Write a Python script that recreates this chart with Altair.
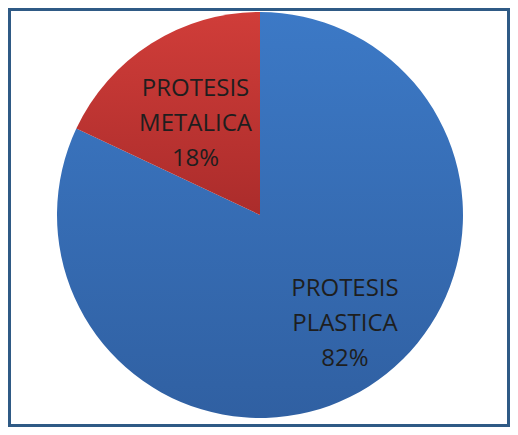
import altair as alt
import pandas as pd
import math

categories = ["PROTESIS\nPLASTICA", "PROTESIS\nMETALICA"]
values = [82, 18]
order = [1, 2]
labels = ["PROTESIS\nPLASTICA\n82%", "PROTESIS\nMETALICA\n18%"]

df = pd.DataFrame({"cat": categories, "value": values, "ord": order, "label": labels})

base = alt.Chart(df).transform_window(
    cum="sum(value)", sort=[alt.SortField("ord")]
).transform_calculate(
    start="datum.cum - datum.value", mid="datum.cum - datum.value / 2"
)

theta_scale = alt.Scale(domain=[0, 100], range=[0, 2 * math.pi])

blue = alt.Gradient(
    gradient="linear",
    stops=[alt.GradientStop(color="#3c79c6", offset=0), alt.GradientStop(color="#3060a2", offset=1)],
    x1=0, x2=0, y1=0, y2=1,
)
red = alt.Gradient(
    gradient="linear",
    stops=[alt.GradientStop(color="#d03d39", offset=0), alt.GradientStop(color="#ab2c2b", offset=1)],
    x1=0, x2=0, y1=0, y2=1,
)

W, H = 496, 414

def arc(idx, fill):
    return base.transform_filter(alt.datum.ord == order[idx]).mark_arc(
        color=fill, stroke=None
    ).encode(
        theta=alt.Theta("start:Q", scale=theta_scale),
        theta2="cum:Q",
        radius=alt.value(203),
    )

def txt(idx, r, dx, dy):
    return base.transform_filter(alt.datum.ord == order[idx]).mark_text(
        font="Open Sans", fontSize=24, lineBreak="\n", lineHeight=35,
        color="#1e1e1e", align="center", baseline="middle", dx=dx, dy=dy,
    ).encode(
        theta=alt.Theta("mid:Q", scale=theta_scale),
        radius=alt.value(r),
        text="label:N",
    )

frame = alt.Chart(df).mark_rect(
    fill=None, stroke="#2f5a85", strokeWidth=3
).encode(
    x=alt.value(-2.5), x2=alt.value(496.5), y=alt.value(1.5), y2=alt.value(417.5)
).transform_filter(alt.datum.ord == 1)

chart = alt.layer(
    arc(0, blue), arc(1, red), txt(0, 139, 10.5, -43.5), txt(1, 111, -5, -32.5), frame
).properties(
    width=W, height=H, padding={"left": 4, "top": 0, "right": 2, "bottom": 5},
    autosize=alt.AutoSizeParams(type="none")
).configure_view(
    stroke=None
)

chart.save("out.html", embed_options={"renderer": "svg", "actions": False})
